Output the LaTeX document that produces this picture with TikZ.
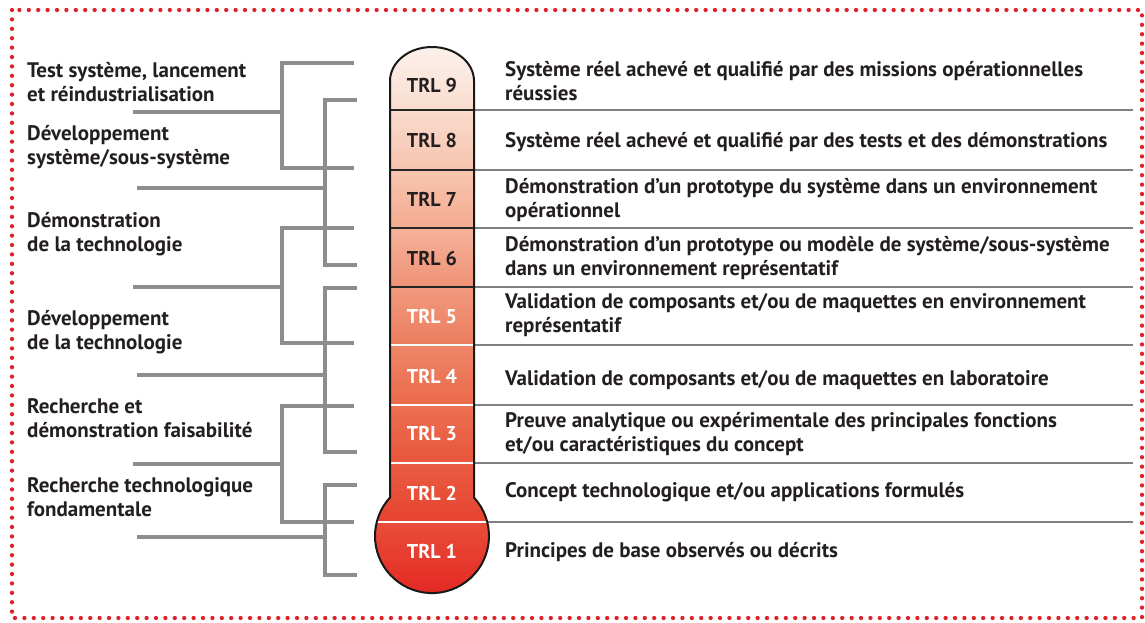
\documentclass[tikz,border=0pt]{standalone}
\usepackage{fontspec}
\setmainfont{PT Sans}
\definecolor{ink}{HTML}{231F20}
\definecolor{brkgray}{HTML}{8C8D8F}
\definecolor{rulegray}{HTML}{7F8083}
\definecolor{border}{HTML}{DE2229}
\definecolor{tA9}{HTML}{FDF3EE}\definecolor{tB9}{HTML}{F9DCCF}
\definecolor{tA8}{HTML}{FADBCD}\definecolor{tB8}{HTML}{F6C3AE}
\definecolor{tA7}{HTML}{F8C6B0}\definecolor{tB7}{HTML}{F3AA8F}
\definecolor{tA6}{HTML}{F5B29A}\definecolor{tB6}{HTML}{EF9276}
\definecolor{tA5}{HTML}{F19A7E}\definecolor{tB5}{HTML}{EC7C5E}
\definecolor{tA4}{HTML}{EE8667}\definecolor{tB4}{HTML}{EA6A4B}
\definecolor{tA3}{HTML}{EC7053}\definecolor{tB3}{HTML}{E8553A}
\definecolor{tA2}{HTML}{EA5C43}\definecolor{tB2}{HTML}{E6432F}
\definecolor{tA1}{HTML}{E94E3A}\definecolor{tB1}{HTML}{E42522}
\begin{document}
\begin{tikzpicture}[x=1pt,y=-1pt,
  txt/.style={font=\fontsize{21}{24}\selectfont\bfseries, text=ink, inner sep=0pt, align=left, anchor=base west},
  lbl/.style={font=\fontsize{21}{24}\selectfont\bfseries, text=ink, inner sep=0pt, align=left, anchor=base west},
  trl/.style={font=\fontsize{20}{22}\selectfont\bfseries, inner sep=0pt},
  brk/.style={draw=brkgray, line width=4.5pt, line join=miter},
  rulel/.style={draw=rulegray, line width=2.5pt},
  divdark/.style={draw=black!85, line width=2.2pt},
  divlight/.style={draw=white, line width=2.5pt}]
\useasboundingbox (0,0) rectangle (1145,622);
\fill[white] (0,0) rectangle (1145,622);
% border
\draw[border, line width=4.3pt, line cap=round, dash pattern=on 0pt off 9.4pt]
  (12,10) rectangle (1142,618);

% brackets
\draw[brk] (354,63) -- (282,63) -- (282,168) -- (354,168);
\draw[brk] (133,112) -- (282,112);
\draw[brk] (357,100) -- (325,100) -- (325,265) -- (357,265);
\draw[brk] (137,188) -- (325,188);
\draw[brk] (354,228) -- (282,228) -- (282,343) -- (354,343);
\draw[brk] (133,287) -- (282,287);
\draw[brk] (357,288) -- (325,288) -- (325,452) -- (357,452);
\draw[brk] (137,375) -- (325,375);
\draw[brk] (354,406) -- (282,406) -- (282,522) -- (354,522);
\draw[brk] (133,464) -- (282,464);
\draw[brk] (357,485) -- (325,485) -- (325,575) -- (357,575);
\draw[brk] (137,537) -- (325,537);

% right rules
\foreach \yy in {110,170,228,287,345,405,463} \draw[rulel] (474,\yy) -- (1133,\yy);
\draw[rulel] (487,522) -- (1133,522);

% thermometer
\def\thermo{(390,81) arc[start angle=180,end angle=360,x radius=42,y radius=34] -- (474,497.54) arc[start angle=-42.53,end angle=222.53,radius=57] -- cycle}
\begin{scope}
\clip \thermo;
\shade[top color=tA9,bottom color=tB9] (370,40) rectangle (494,110);
\shade[top color=tA8,bottom color=tB8] (370,110) rectangle (494,170);
\shade[top color=tA7,bottom color=tB7] (370,170) rectangle (494,228);
\shade[top color=tA6,bottom color=tB6] (370,228) rectangle (494,287);
\shade[top color=tA5,bottom color=tB5] (370,287) rectangle (494,345);
\shade[top color=tA4,bottom color=tB4] (370,345) rectangle (494,405);
\shade[top color=tA3,bottom color=tB3] (370,405) rectangle (494,463);
\shade[top color=tA2,bottom color=tB2] (370,463) rectangle (494,522);
\shade[top color=tA1,bottom color=tB1] (370,522) rectangle (494,600);
\foreach \yy in {110,170,228,287} \draw[divdark] (370,\yy) -- (494,\yy);
\foreach \yy in {345,405,463,522} \draw[divlight] (370,\yy) -- (494,\yy);
\end{scope}
\draw[black!90, line width=2pt] \thermo;

% TRL labels
\node[trl,text=ink] (t9) at (432,85) {TRL 9};
\node[trl,text=ink] (t8) at (432,140) {TRL 8};
\node[trl,text=ink] (t7) at (432,199) {TRL 7};
\node[trl,text=ink] (t6) at (432,258) {TRL 6};
\node[trl,text=white] (t5) at (432,317) {TRL 5};
\node[trl,text=white] (t4) at (432,376) {TRL 4};
\node[trl,text=white] (t3) at (432,434) {TRL 3};
\node[trl,text=white] (t2) at (432,493) {TRL 2};
\node[trl,text=white] (t1) at (432,551) {TRL 1};

% right descriptions (base = last line baseline)
\node[txt] (d9) at (505,100) {Système réel achevé et qualifié par des missions opérationnelles\\réussies};
\node[txt] (d8) at (505,147) {Système réel achevé et qualifié par des tests et des démonstrations};
\node[txt] (d7) at (505,217) {Démonstration d’un prototype du système dans un environnement\\opérationnel};
\node[txt] (d6) at (505,275) {Démonstration d’un prototype ou modèle de système/sous-système\\dans un environnement représentatif};
\node[txt] (d5) at (505,332) {Validation de composants et/ou de maquettes en environnement\\représentatif};
\node[txt] (d4) at (505,385) {Validation de composants et/ou de maquettes en laboratoire};
\node[txt] (d3) at (505,451) {Preuve analytique ou expérimentale des principales fonctions\\et/ou caractéristiques du concept};
\node[txt] (d2) at (505,497) {Concept technologique et/ou applications formulés};
\node[txt] (d1) at (505,557) {Principes de base observés ou décrits};

% left phases
\node[lbl] (p6) at (27,101) {Test système, lancement\\et réindustrialisation};
\node[lbl] (p5) at (27,164) {Développement\\système/sous-système};
\node[lbl] (p4) at (27,251) {Démonstration\\de la technologie};
\node[lbl] (p3) at (27,349) {Développement\\de la technologie};
\node[lbl] (p2) at (27,437) {Recherche et\\démonstration faisabilité};
\node[lbl] (p1) at (27,516) {Recherche technologique\\fondamentale};
\end{tikzpicture}
\end{document}
